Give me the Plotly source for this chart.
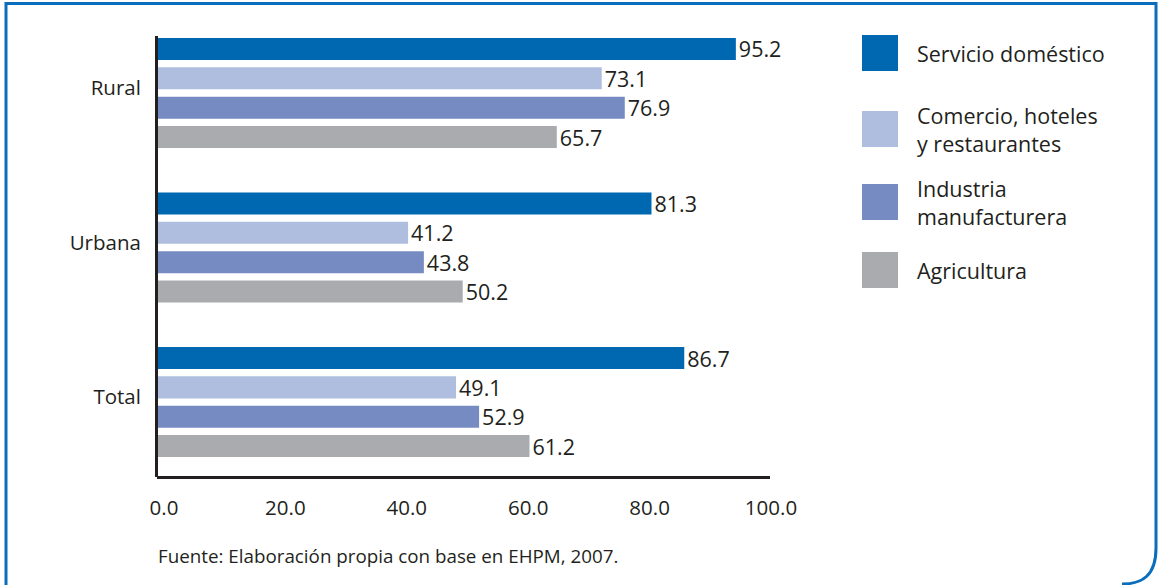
import plotly.graph_objects as go

# Data
groups = ["Total", "Urbana", "Rural"]
sectors = ["Servicio doméstico", "Comercio, hoteles y restaurantes",
           "Industria manufacturera", "Agricultura"]
legend_labels = ["Servicio doméstico", "Comercio, hoteles<br>y restaurantes",
                 "Industria<br>manufacturera", "Agricultura"]
servicio = [86.7, 81.3, 95.2]
comercio = [49.1, 41.2, 73.1]
industria = [52.9, 43.8, 76.9]
agricultura = [61.2, 50.2, 65.7]
x_ticks = [0, 20, 40, 60, 80, 100]
x_tick_text = ["0.0", "20.0", "40.0", "60.0", "80.0", "100.0"]
source_note = "Fuente: Elaboración propia con base en EHPM, 2007."

colors = ["#0067b1", "#afbedf", "#778bc3", "#aaabae"]
series = [servicio, comercio, industria, agricultura]

FONT = "Open Sans"
TXT = "#231f20"
W, H = 1164, 585
L, R, T, B = 158, 765, 36, 477


def px(xp):
    return (xp - L) / (R - L)


def py(yp):
    return (B - yp) / (B - T)


fig = go.Figure()
# plotly stacks grouped horizontal bars bottom-up, so add them in reverse
for name, vals, col in reversed(list(zip(sectors, series, colors))):
    fig.add_trace(go.Bar(
        y=groups, x=vals, orientation="h", name=name,
        marker=dict(color=col, line=dict(width=0)),
        text=[f"{v:.1f}" for v in vals], textposition="outside",
        constraintext="none",
        textfont=dict(family=FONT, size=21.5, color=TXT),
        cliponaxis=False, showlegend=False,
    ))

shapes = []
annotations = []
# legend swatches and labels
leg_y = [53, 129, 202, 270]
for lab, col, yc in zip(legend_labels, colors, leg_y):
    shapes.append(dict(type="rect", xref="paper", yref="paper",
                       x0=px(862), x1=px(898), y0=py(yc - 18), y1=py(yc + 18),
                       fillcolor=col, line=dict(width=0)))
    annotations.append(dict(xref="paper", yref="paper", x=px(915), y=py(yc),
                            text=lab, showarrow=False, xanchor="left",
                            yanchor="middle", align="left",
                            font=dict(family=FONT, size=21.5, color=TXT)))

# source note
annotations.append(dict(xref="paper", yref="paper", x=px(156), y=py(556),
                        text=source_note, showarrow=False, xanchor="left",
                        yanchor="middle",
                        font=dict(family=FONT, size=18.8, color=TXT)))

# outer frame with a rounded lower-right corner
x0, x1, y0, yb, rad = 6, 1156, 3.5, 590, 34
frame = (f"M {px(x0)},{py(yb)} L {px(x0)},{py(y0)} L {px(x1)},{py(y0)} "
         f"L {px(x1)},{py(yb - rad - 8)} "
         f"C {px(x1)},{py(yb - 14)} {px(x1 - 14)},{py(yb - 6)} {px(x1 - rad)},{py(yb - 6)}")
shapes.append(dict(type="path", xref="paper", yref="paper", path=frame,
                   line=dict(color="#0a6ebd", width=3)))
# x axis baseline (slightly longer than the data range)
shapes.append(dict(type="line", xref="paper", yref="paper",
                   x0=px(157), x1=px(770), y0=py(477.5), y1=py(477.5),
                   line=dict(color=TXT, width=3)))

fig.update_layout(
    width=W, height=H,
    margin=dict(l=L, r=W - R, t=T, b=H - B, pad=0),
    paper_bgcolor="white", plot_bgcolor="white",
    barmode="group", bargap=0.24, bargroupgap=0.25,
    font=dict(family=FONT, color=TXT),
    shapes=shapes, annotations=annotations,
    xaxis=dict(range=[0, 100], tickvals=x_ticks, ticktext=x_tick_text,
               showgrid=False, zeroline=False, showline=False, ticks="",
               tickfont=dict(family=FONT, size=20.5, color=TXT),
               ticklabelstandoff=16, ticklabelshift=6),
    yaxis=dict(range=[-0.485, 2.369], showgrid=False, zeroline=False,
               showline=True, linecolor=TXT, linewidth=3, ticks="",
               tickfont=dict(family=FONT, size=20.5, color=TXT),
               ticklabelstandoff=10, ticklabelshift=-5),
)

fig.write_html("out.html")
